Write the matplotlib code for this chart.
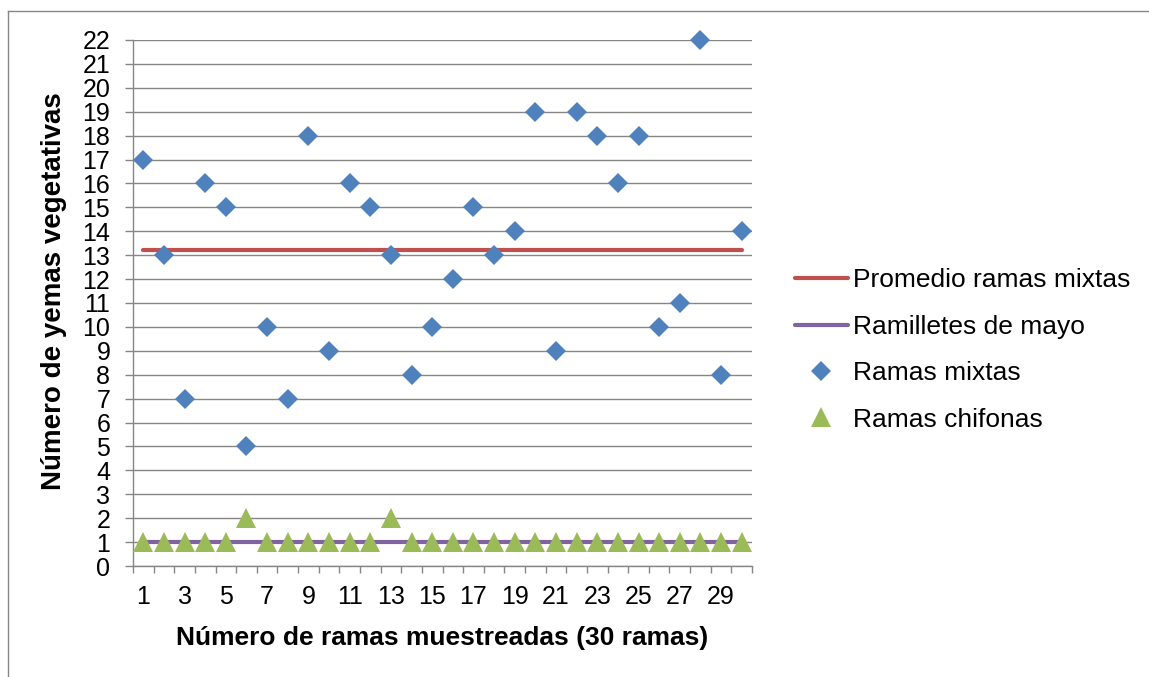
import numpy as np
import matplotlib
matplotlib.use('Agg')
import matplotlib.pyplot as plt
from matplotlib.lines import Line2D

plt.rcParams['font.family'] = ['Liberation Sans', 'DejaVu Sans']

ramas = np.arange(1, 31)
ramas_mixtas = [17, 13, 7, 16, 15, 5, 10, 7, 18, 9,
                16, 15, 13, 8, 10, 12, 15, 13, 14, 19,
                9, 19, 18, 16, 18, 10, 11, 22, 8, 14]
ramas_chifonas = [1, 1, 1, 1, 1, 2, 1, 1, 1, 1,
                  1, 1, 2, 1, 1, 1, 1, 1, 1, 1,
                  1, 1, 1, 1, 1, 1, 1, 1, 1, 1]
ramilletes_mayo = [1] * 30
promedio = [np.mean(ramas_mixtas)] * 30

W, H = 1149, 677
fig = plt.figure(figsize=(W / 100, H / 100), dpi=100)
ax = fig.add_axes([133 / W, (H - 566) / H, (752 - 133) / W, (566 - 40) / H])

gris = '#868686'
ax.plot(ramas, promedio, color='#C0504D', lw=3, solid_capstyle='round',
        label='Promedio ramas mixtas', zorder=3)
ax.plot(ramas, ramilletes_mayo, color='#8064A2', lw=3, solid_capstyle='round',
        label='Ramilletes de mayo', zorder=3)
ax.plot(ramas, ramas_mixtas, 'D', color='#4F81BD', ms=10, mew=0,
        label='Ramas mixtas', zorder=4, clip_on=False)
ax.plot(ramas, ramas_chifonas, '^', color='#9BBB59', ms=14, mew=0,
        label='Ramas chifonas', zorder=4, clip_on=False)

ax.set_xlim(0.5, 30.5)
ax.set_ylim(0, 22)
ax.set_yticks(range(0, 23))
ax.set_xticks(range(1, 31, 2))
ax.set_xticks(np.arange(0.5, 31, 1), minor=True)
ax.tick_params(axis='x', which='major', length=0, pad=14, labelsize=18)
ax.tick_params(axis='x', which='minor', length=5, color=gris, width=1)
ax.tick_params(axis='y', length=5.8, color=gris, width=1, labelsize=18, pad=10.5)
ax.grid(axis='y', color=gris, lw=1)
ax.set_axisbelow(True)
for s in ['top', 'right']:
    ax.spines[s].set_visible(False)
for s in ['left', 'bottom']:
    ax.spines[s].set_color(gris)
    ax.spines[s].set_linewidth(1)

ax.set_xlabel('Número de ramas muestreadas (30 ramas)', fontsize=19,
              fontweight='bold', labelpad=12)
ax.set_ylabel('Número de yemas vegetativas', fontsize=20, fontweight='bold')
ax.yaxis.set_label_coords((67 - 133) / 619, (566 - 291) / 526)

ax.legend(loc='center left', bbox_to_anchor=(795 / W, (H - 350) / H),
          bbox_transform=fig.transFigure, frameon=False, fontsize=19,
          handlelength=2.0, handletextpad=0.2, labelspacing=0.85,
          borderpad=0, borderaxespad=0)

fig.add_artist(Line2D([8 / W, 8 / W], [0, (H - 11) / H], color=gris, lw=1))
fig.add_artist(Line2D([8 / W, 1], [(H - 11) / H, (H - 11) / H], color=gris, lw=1))

fig.savefig('out.png', dpi=100)
